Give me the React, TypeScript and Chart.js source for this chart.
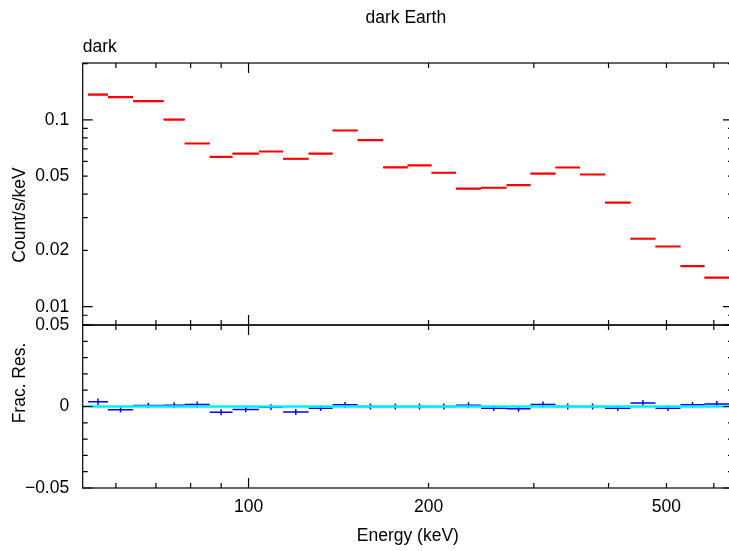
import React, { useEffect, useRef } from "react";
import { Chart, registerables } from "chart.js";

Chart.register(...registerables);

// ---- data ----
const binEdges = [53.9, 58.2, 64.1, 72.1, 78.2, 86.1, 94.0, 104.1, 114.2, 126.0, 138.2, 152.2, 167.9, 184.5, 202.3, 222.3, 244.8, 270.1, 296.2, 326.1, 358.4, 394.7, 435.3, 479.2, 527.7, 578.8, 636.3];
const modelRate = [0.1366, 0.1323, 0.1259, 0.1004, 0.0747, 0.0634, 0.066, 0.0677, 0.0619, 0.066, 0.0877, 0.0779, 0.0557, 0.057, 0.0521, 0.0428, 0.0433, 0.0447, 0.0516, 0.0556, 0.051, 0.0361, 0.0231, 0.021, 0.0165, 0.0143];
const dataRate = [0.137, 0.132, 0.126, 0.1005, 0.0748, 0.0632, 0.0659, 0.0677, 0.0617, 0.0659, 0.0878, 0.0779, 0.0557, 0.057, 0.0521, 0.0428, 0.0433, 0.0446, 0.0517, 0.0556, 0.051, 0.0361, 0.0232, 0.021, 0.0165, 0.0143];
const fracRes = [0.0029, -0.002, 0.0006, 0.0008, 0.0012, -0.0035, -0.0018, -0.0004, -0.0033, -0.001, 0.001, 0.0, 0.0, 0.0, 0.0, 0.0008, -0.001, -0.0014, 0.0012, 0.0, 0.0, -0.001, 0.0022, -0.001, 0.001, 0.0016];
const fracResErr = [0.002, 0.0017, 0.0017, 0.0018, 0.0018, 0.0018, 0.0018, 0.0018, 0.0018, 0.0018, 0.0018, 0.0018, 0.0018, 0.0018, 0.0018, 0.0018, 0.0018, 0.0018, 0.0018, 0.0018, 0.0018, 0.0018, 0.0018, 0.0018, 0.0018, 0.0018];

const xRange = [52.8, 646];
const yTopRange = [0.00798, 0.2015];
const yBotRange = [-0.05, 0.05];

const xLabelTicks = [100, 200, 500];
const xMajorTicks = [100];
const xMinorTicks = [60, 70, 80, 90, 200, 300, 400, 500, 600];
const yTopLabelTicks = [0.01, 0.02, 0.05, 0.1];
const yTopMajorTicks = [0.01, 0.1];
const yTopMinorTicks = [0.008, 0.009, 0.02, 0.03, 0.04, 0.05, 0.06, 0.07, 0.08, 0.09, 0.2];
const yBotLabelTicks = [-0.05, 0, 0.05];
const yBotMajorTicks = [-0.05, 0, 0.05];
const yBotMinorTicks = [-0.04, -0.03, -0.02, -0.01, 0.01, 0.02, 0.03, 0.04];

const FONT = "'Liberation Sans', Arial, Helvetica, sans-serif";

function hSegments(values: number[]) {
  const pts: any[] = [];
  values.forEach((v, i) => {
    pts.push({ x: binEdges[i], y: v }, { x: binEdges[i + 1], y: v }, { x: binEdges[i + 1], y: null });
  });
  return pts;
}
function vBars(values: number[], errs: number[]) {
  const pts: any[] = [];
  values.forEach((v, i) => {
    const c = Math.sqrt(binEdges[i] * binEdges[i + 1]);
    pts.push({ x: c, y: v - errs[i] }, { x: c, y: v + errs[i] }, { x: c, y: null });
  });
  return pts;
}
function fmt(v: number) {
  if (v === 0) return "0";
  if (v < 0) return "\u2212" + String(Math.abs(v));
  return String(v);
}

const framePlugin = {
  id: "xspecFrame",
  afterDraw(chart: any) {
    const ctx = chart.ctx;
    const xs = chart.scales.x;
    const panels = [
      { s: chart.scales.y, major: yTopMajorTicks, minor: yTopMinorTicks },
      { s: chart.scales.y2, major: yBotMajorTicks, minor: yBotMinorTicks },
    ];
    const L = xs.left, R = xs.right;
    ctx.save();
    ctx.strokeStyle = "#000";
    ctx.lineWidth = 1.2;
    const MAJ = 10, MIN = 5;
    for (const p of panels) {
      const T = p.s.top, B = p.s.bottom;
      ctx.strokeRect(L, T, R - L, B - T);
      ctx.beginPath();
      const xt = [...xMajorTicks.map((v) => [v, MAJ]), ...xMinorTicks.map((v) => [v, MIN])];
      for (const [v, len] of xt) {
        const px = xs.getPixelForValue(v);
        ctx.moveTo(px, B); ctx.lineTo(px, B - len);
        ctx.moveTo(px, T); ctx.lineTo(px, T + len);
      }
      const yt = [...p.major.map((v) => [v, MAJ]), ...p.minor.map((v) => [v, MIN])];
      for (const [v, len] of yt) {
        const py = p.s.getPixelForValue(v);
        if (py < T - 0.5 || py > B + 0.5) continue;
        ctx.moveTo(L, py); ctx.lineTo(L + len, py);
        ctx.moveTo(R, py); ctx.lineTo(R - len, py);
      }
      ctx.stroke();
    }
    ctx.fillStyle = "#000";
    ctx.font = `17.5px ${FONT}`;
    ctx.textBaseline = "middle";
    ctx.textAlign = "center";
    ctx.fillText("dark Earth", (L + R) / 2 - 2, 18);
    ctx.textAlign = "left";
    ctx.fillText("dark", L, 47);
    // axis titles (rotated)
    const yTitles: [string, number][] = [["Count/s/keV", 215], ["Frac. Res.", 383]];
    for (const [t, cy] of yTitles) {
      ctx.save();
      ctx.translate(20, cy);
      ctx.rotate(-Math.PI / 2);
      ctx.textAlign = "center";
      ctx.textBaseline = "middle";
      ctx.fillText(t, 0, 0);
      ctx.restore();
    }
    ctx.restore();
  },
};

export default function App() {
  const ref = useRef<HTMLCanvasElement | null>(null);
  useEffect(() => {
    if (!ref.current) return;
    const tickFont = { family: FONT, size: 17.5 };
    const chart = new Chart(ref.current, {
      type: "line",
      data: {
        datasets: [
          { label: "model", data: hSegments(modelRate), borderColor: "#ff0000", borderWidth: 2.2, yAxisID: "y", pointRadius: 0 },
          { label: "data", data: hSegments(dataRate), borderColor: "rgba(70,0,0,0.8)", borderWidth: 1, yAxisID: "y", pointRadius: 0 },
          { label: "zero", data: [{ x: xRange[0], y: 0 }, { x: xRange[1], y: 0 }], borderColor: "#00f0ff", borderWidth: 2.5, yAxisID: "y2", pointRadius: 0 },
          { label: "res", data: hSegments(fracRes), borderColor: "#0000ff", borderWidth: 1.5, yAxisID: "y2", pointRadius: 0 },
          { label: "resErr", data: vBars(fracRes, fracResErr), borderColor: "#0000ff", borderWidth: 1.5, yAxisID: "y2", pointRadius: 0 },
        ],
      },
      options: {
        responsive: false,
        animation: false,
        devicePixelRatio: 1,
        spanGaps: false,
        layout: { padding: { top: 63, right: 12, bottom: 0, left: 0 } },
        plugins: { legend: { display: false }, tooltip: { enabled: false }, title: { display: false } },
        elements: { point: { radius: 0 }, line: { tension: 0 } },
        scales: {
          x: {
            type: "logarithmic",
            position: "bottom",
            min: xRange[0],
            max: xRange[1],
            grid: { display: false, drawTicks: false, tickLength: 0 },
            border: { display: false },
            afterBuildTicks: (s: any) => { s.ticks = xLabelTicks.map((v) => ({ value: v })); },
            afterFit: (s: any) => { s.height = 63; },
            ticks: { autoSkip: false, maxRotation: 0, padding: 9, color: "#000", font: tickFont, callback: (v: any) => fmt(Number(v)) },
            title: { display: true, text: "Energy (keV)", color: "#000", font: tickFont, padding: { top: 0, bottom: 4 } },
          },
          y2: {
            type: "linear",
            position: "left",
            stack: "panels",
            stackWeight: 163,
            min: yBotRange[0],
            max: yBotRange[1],
            grid: { display: false, drawTicks: false, tickLength: 0 },
            border: { display: false },
            afterBuildTicks: (s: any) => { s.ticks = yBotLabelTicks.map((v) => ({ value: v })); },
            afterFit: (s: any) => { s.width = 82.7; },
            ticks: { autoSkip: false, padding: 13.5, color: "#000", font: tickFont, callback: (v: any) => fmt(Number(v)) },
          },
          y: {
            type: "logarithmic",
            position: "left",
            stack: "panels",
            stackWeight: 262,
            min: yTopRange[0],
            max: yTopRange[1],
            grid: { display: false, drawTicks: false, tickLength: 0 },
            border: { display: false },
            afterBuildTicks: (s: any) => { s.ticks = yTopLabelTicks.map((v) => ({ value: v })); },
            afterFit: (s: any) => { s.width = 82.7; },
            ticks: { autoSkip: false, padding: 13.5, color: "#000", font: tickFont, callback: (v: any) => fmt(Number(v)) },
          },
        },
      } as any,
      plugins: [framePlugin],
    });
    return () => chart.destroy();
  }, []);
  return (
    <div style={{ position: "fixed", left: 0, top: 0, width: 729, height: 551, overflow: "hidden", background: "#fff" }}>
      <canvas ref={ref} width={745} height={551} style={{ display: "block", width: 745, height: 551 }} />
    </div>
  );
}
